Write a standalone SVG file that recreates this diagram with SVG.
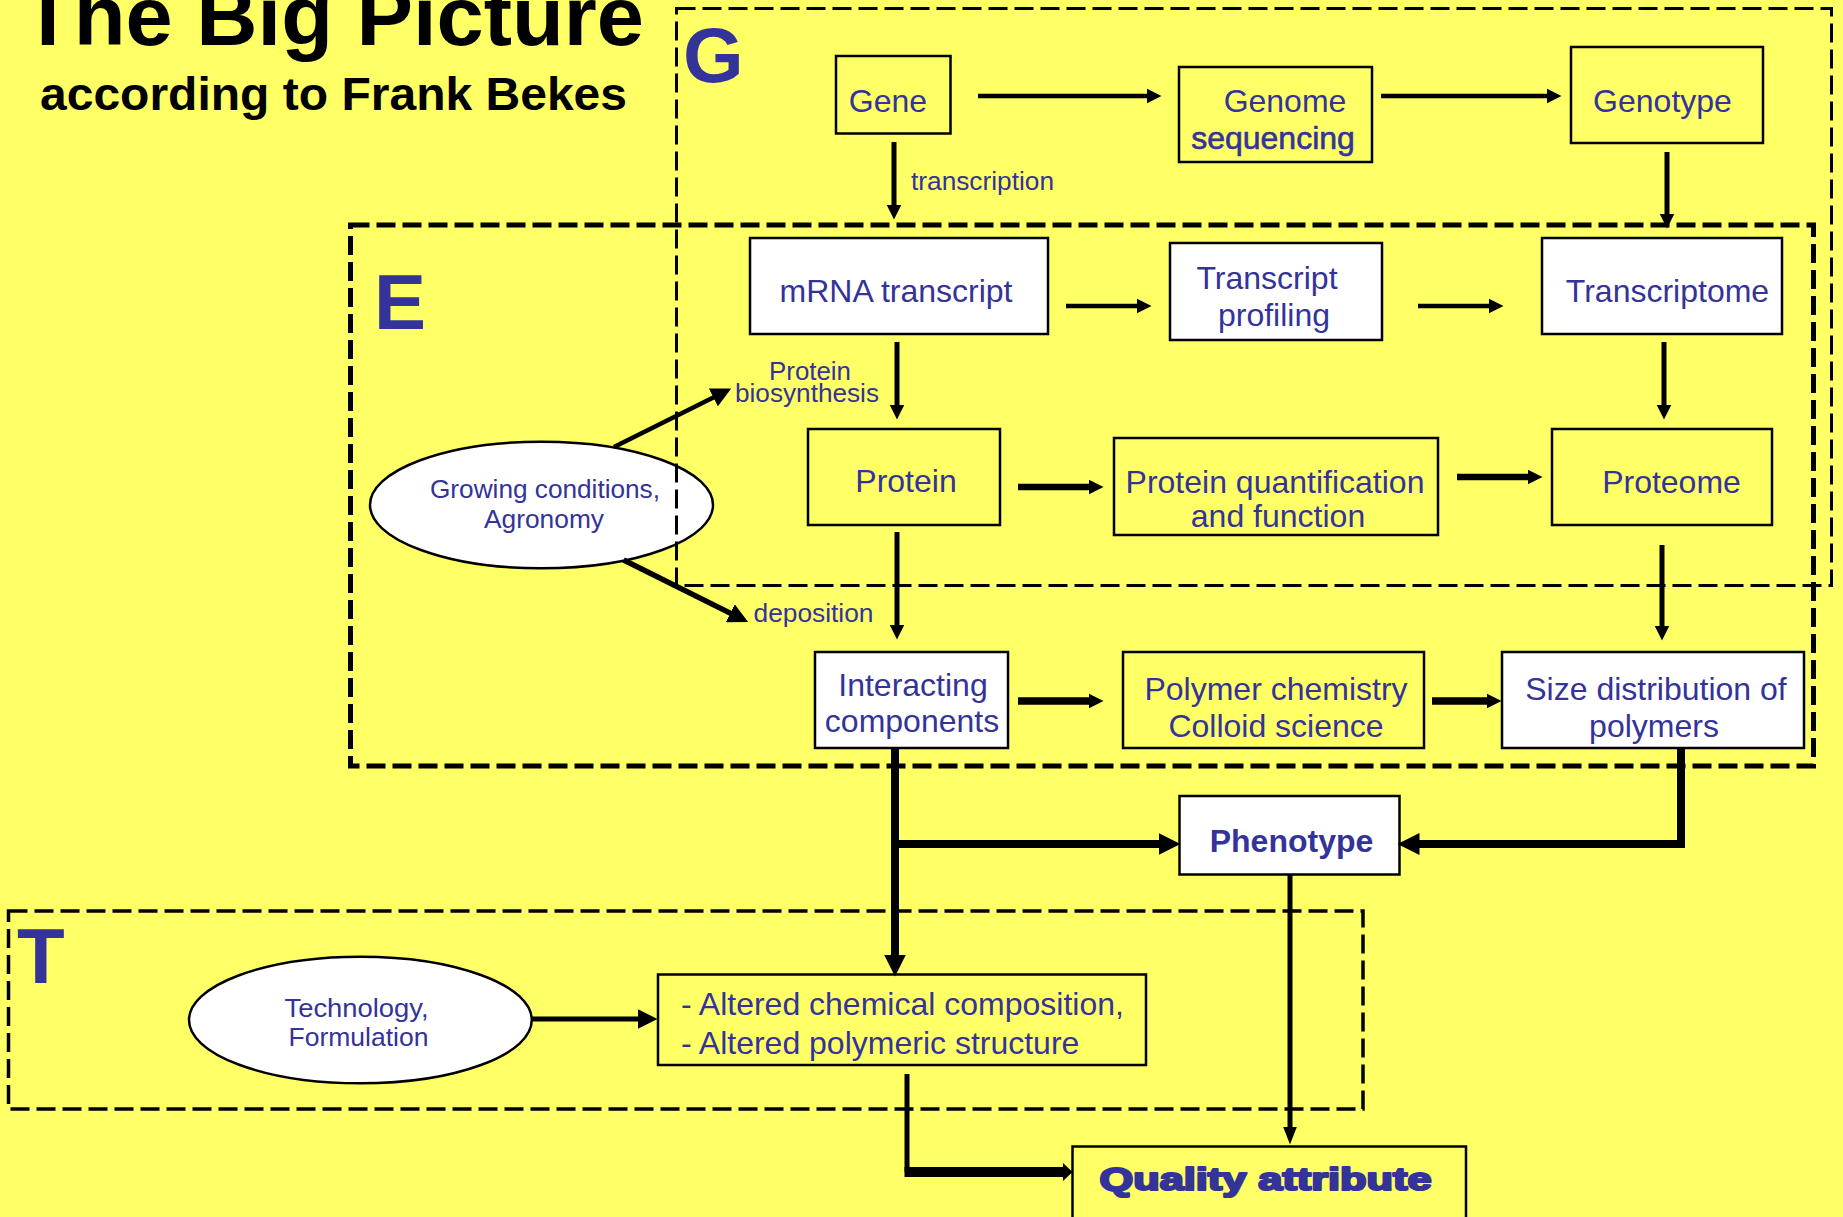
<svg xmlns="http://www.w3.org/2000/svg" width="1843" height="1217" viewBox="0 0 1843 1217">
<style>
text{font-family:"Liberation Sans",Arial,Helvetica,sans-serif}
.n{stroke:#000;stroke-width:2.5}
.y{fill:#FFFF66}
.w{fill:#FFFFFF}
.t{fill:#333399;font-size:32px;text-anchor:middle}
.s{fill:#333399;font-size:25px}
.c{fill:none;stroke:#000;stroke-linecap:butt;stroke-linejoin:miter}
.r{fill:none;stroke:#000;stroke-dasharray:19 7}
.lbl{fill:#333399;font-size:78px;font-weight:bold}
</style>
<defs>
<marker id="ms" markerUnits="userSpaceOnUse" viewBox="0 -8 15 16" markerWidth="15" markerHeight="16" refX="0.5" refY="0" orient="auto"><path d="M0,-7.5 L15,0 L0,7.5 z" fill="#000"/></marker>
<marker id="mm" markerUnits="userSpaceOnUse" viewBox="0 -10 20 20" markerWidth="20" markerHeight="20" refX="0.5" refY="0" orient="auto"><path d="M0,-10 L20,0 L0,10 z" fill="#000"/></marker>
<marker id="mb" markerUnits="userSpaceOnUse" viewBox="0 -11 22 22" markerWidth="22" markerHeight="22" refX="0.5" refY="0" orient="auto"><path d="M0,-11 L22,0 L0,11 z" fill="#000"/></marker>
<marker id="mq" markerUnits="userSpaceOnUse" viewBox="0 -7 18 14" markerWidth="18" markerHeight="14" refX="0.5" refY="0" orient="auto"><path d="M0,-7 L18,0 L0,7 z" fill="#000"/></marker>
<marker id="mk" markerUnits="userSpaceOnUse" viewBox="0 -10 10 20" markerWidth="10" markerHeight="20" refX="0.5" refY="0" orient="auto"><path d="M0,-9.5 L10,0 L0,9.5 z" fill="#000"/></marker>
</defs>
<rect class="bg" x="0" y="0" width="1843" height="1217" fill="#FFFF66"/>

<g id="title">
<text x="22" y="45" font-size="84" font-weight="bold" fill="#000" textLength="622" lengthAdjust="spacingAndGlyphs">The Big Picture</text>
<text x="40" y="110" font-size="47" font-weight="bold" fill="#000" textLength="587" lengthAdjust="spacingAndGlyphs">according to Frank Bekes</text>
</g>

<g id="nodes">
<g id="gene"><rect class="n y" x="836" y="56" width="114.5" height="77.5"/><text class="t" x="888" y="112">Gene</text></g>
<g id="genome-sequencing"><rect class="n y" x="1179" y="67" width="193" height="95"/><text class="t" x="1285" y="112">Genome</text><text class="t" x="1273" y="149" stroke="#333399" stroke-width="0.6">sequencing</text></g>
<g id="genotype"><rect class="n y" x="1571" y="47" width="192" height="96"/><text class="t" x="1662.5" y="112">Genotype</text></g>
<g id="mrna-transcript"><rect class="n w" x="750" y="238" width="298" height="96"/><text class="t" x="896" y="302">mRNA transcript</text></g>
<g id="transcript-profiling"><rect class="n w" x="1170" y="243" width="212" height="97"/><text class="t" x="1267" y="289">Transcript</text><text class="t" x="1274" y="326">profiling</text></g>
<g id="transcriptome"><rect class="n w" x="1542" y="238" width="240" height="96"/><text class="t" x="1667.5" y="302">Transcriptome</text></g>
<g id="protein"><rect class="n y" x="808" y="429" width="192" height="96"/><text class="t" x="906" y="492">Protein</text></g>
<g id="protein-quantification"><rect class="n y" x="1114" y="438" width="324" height="97"/><text class="t" x="1275" y="493">Protein quantification</text><text class="t" x="1278" y="527">and function</text></g>
<g id="proteome"><rect class="n y" x="1552" y="429" width="220" height="96"/><text class="t" x="1671.5" y="493">Proteome</text></g>
<g id="interacting-components"><rect class="n w" x="815" y="652" width="193" height="96"/><text class="t" x="913" y="696">Interacting</text><text class="t" x="912" y="732">components</text></g>
<g id="polymer-chemistry"><rect class="n y" x="1123" y="652" width="301" height="96"/><text class="t" x="1276" y="700">Polymer chemistry</text><text class="t" x="1276" y="737">Colloid science</text></g>
<g id="size-distribution"><rect class="n w" x="1502" y="652" width="302" height="96"/><text class="t" x="1656" y="700">Size distribution of</text><text class="t" x="1654" y="737">polymers</text></g>
<g id="phenotype"><rect class="n w" x="1179.5" y="796" width="220" height="78.5"/><text class="t" x="1291.5" y="852" font-size="31" font-weight="bold">Phenotype</text></g>
<g id="altered"><rect class="n y" x="658" y="974.5" width="488" height="90.5"/><text class="t" x="681" y="1015" style="text-anchor:start">- Altered chemical composition,</text><text class="t" x="681" y="1054" style="text-anchor:start">- Altered polymeric structure</text></g>
<g id="quality-attribute"><rect class="n y" x="1072.5" y="1146.5" width="393.5" height="100"/><text class="t" x="1265.5" y="1190" font-size="42" font-weight="bold" stroke="#333399" stroke-width="2.2" stroke-linejoin="round" textLength="332" lengthAdjust="spacingAndGlyphs">Quality attribute</text></g>
<g id="growing-conditions"><ellipse class="n w" cx="541.5" cy="505" rx="171.5" ry="63.3"/><text class="s" x="545" y="498" text-anchor="middle" textLength="230" lengthAdjust="spacingAndGlyphs">Growing conditions,</text><text class="s" x="544" y="528" text-anchor="middle" textLength="120" lengthAdjust="spacingAndGlyphs">Agronomy</text></g>
<g id="technology"><ellipse class="n w" cx="360.4" cy="1020" rx="171.4" ry="63.3"/><text class="s" x="356.5" y="1017" text-anchor="middle" textLength="144" lengthAdjust="spacingAndGlyphs">Technology,</text><text class="s" x="358.5" y="1046" text-anchor="middle" textLength="140" lengthAdjust="spacingAndGlyphs">Formulation</text></g>
</g>

<g id="regions">
<g id="region-G"><rect class="r" x="676.5" y="8.5" width="1155" height="577" stroke-width="3"/><text class="lbl" x="683" y="82">G</text></g>
<g id="region-E"><rect class="r" x="350.5" y="225" width="1463" height="541" stroke-width="5"/><text class="lbl" x="374" y="329">E</text></g>
<g id="region-T"><rect class="r" x="8.5" y="911" width="1354.5" height="198" stroke-width="3.5" stroke-dasharray="18 8"/><text class="lbl" x="17" y="983">T</text></g>
</g>

<g id="connectors">
<path class="c" d="M978,96 H1147" stroke-width="4.5" marker-end="url(#ms)"/>
<path class="c" d="M1381,96 H1547" stroke-width="4.5" marker-end="url(#ms)"/>
<path class="c" d="M894,142 V205" stroke-width="5" marker-end="url(#ms)"/>
<path class="c" d="M1667,152 V214" stroke-width="5" marker-end="url(#ms)"/>
<path class="c" d="M1066,306 H1137" stroke-width="4.5" marker-end="url(#ms)"/>
<path class="c" d="M1418,306 H1489" stroke-width="4.5" marker-end="url(#ms)"/>
<path class="c" d="M897,342 V405" stroke-width="5" marker-end="url(#ms)"/>
<path class="c" d="M1664,342 V405" stroke-width="5" marker-end="url(#ms)"/>
<path class="c" d="M1018,487 H1089" stroke-width="6.5" marker-end="url(#ms)"/>
<path class="c" d="M1457,477 H1528" stroke-width="6.5" marker-end="url(#ms)"/>
<path class="c" d="M897,532 V625" stroke-width="5" marker-end="url(#ms)"/>
<path class="c" d="M1662,545 V626" stroke-width="5" marker-end="url(#ms)"/>
<path class="c" d="M1018,701 H1089" stroke-width="7.5" marker-end="url(#ms)"/>
<path class="c" d="M1432,701 H1487" stroke-width="7.5" marker-end="url(#ms)"/>
<path class="c" d="M614,447 L713.8,397.2" stroke-width="4.5" marker-end="url(#mm)"/>
<text class="s" x="810" y="380" text-anchor="middle" textLength="82" lengthAdjust="spacingAndGlyphs">Protein</text>
<text class="s" x="807" y="402" text-anchor="middle" textLength="144" lengthAdjust="spacingAndGlyphs">biosynthesis</text>
<path class="c" d="M623.6,560 L730.7,613.4" stroke-width="5.5" marker-end="url(#mm)"/>
<text class="s" x="753.5" y="622" textLength="120" lengthAdjust="spacingAndGlyphs">deposition</text>
<text class="s" x="911" y="190" textLength="143" lengthAdjust="spacingAndGlyphs">transcription</text>
<path class="c" d="M895,748 V955" stroke-width="8" marker-end="url(#mb)"/>
<path class="c" d="M895,844 H1159" stroke-width="8" marker-end="url(#mb)"/>
<path class="c" d="M1681,748 V844 H1419" stroke-width="8" marker-end="url(#mb)"/>
<path class="c" d="M1290,875 V1127" stroke-width="5" marker-end="url(#mq)"/>
<path class="c" d="M532,1019 H638" stroke-width="5" marker-end="url(#mm)"/>
<path class="c" d="M907,1074 V1172" stroke-width="5"/>
<path class="c" d="M904.5,1172 H1063" stroke-width="10" marker-end="url(#mk)"/>
</g>
</svg>
